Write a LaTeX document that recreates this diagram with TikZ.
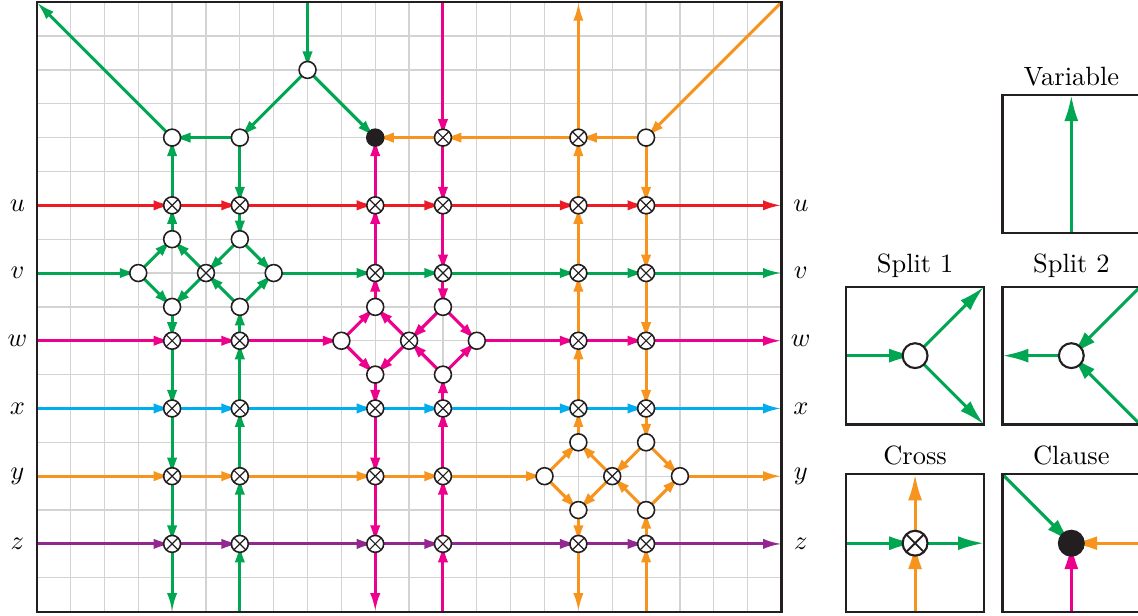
\documentclass[tikz,border=0pt]{standalone}
\usepackage{xcolor}
\usepackage{tikz}
\usetikzlibrary{arrows.meta}
\definecolor{wred}{HTML}{ED1C24}
\definecolor{wgreen}{HTML}{00A651}
\definecolor{wmagenta}{HTML}{EC008C}
\definecolor{wcyan}{HTML}{00AEEF}
\definecolor{worange}{HTML}{F7941D}
\definecolor{wpurple}{HTML}{92278F}
\definecolor{wdark}{HTML}{231F20}
\definecolor{wgrid}{HTML}{D3D3D3}
\pgfdeclarelayer{back}
\pgfdeclarelayer{wires}
\pgfsetlayers{back,wires,main}
\tikzset{
  gridline/.style={wgrid, line width=0.5pt},
  frame/.style={draw=wdark, line width=0.8pt},
  snode/.style={circle, draw=wdark, line width=0.6pt, fill=white,
               minimum size=6.4pt, inner sep=0pt},
  xnode/.style={snode, path picture={\draw[wdark, line width=0.45pt]
      (path picture bounding box.north west) -- (path picture bounding box.south east)
      (path picture bounding box.north east) -- (path picture bounding box.south west);}},
  knode/.style={snode, fill=wdark},
  flow/.style={-{Latex[length=7pt, width=3.9pt]}, line width=1.15pt},
  lbox/.style={draw=wdark, line width=0.8pt, minimum size=1.83cm,
               inner sep=0pt, outer sep=0pt},
  lsnode/.style={snode, minimum size=9.4pt, line width=0.8pt},
  lxnode/.style={lsnode, path picture={\draw[wdark, line width=0.7pt]
      (path picture bounding box.north west) -- (path picture bounding box.south east)
      (path picture bounding box.north east) -- (path picture bounding box.south west);}},
  lknode/.style={lsnode, fill=wdark},
  lflow/.style={-{Latex[length=9.8pt, width=5.3pt]}, line width=1.15pt},
}

\begin{document}
\begin{tikzpicture}[x=0.45cm, y=0.45cm]
  \useasboundingbox (-1.084,-0.103) rectangle (32.53,18.065);
  \begin{pgfonlayer}{back}
    \draw[gridline, step=1] (0,0) grid (22,18);
  \end{pgfonlayer}
  \draw[frame] (0,0) rectangle (22,18);

  \coordinate (nw) at (0,18);
  \coordinate (ne) at (22,18);
  \coordinate (n8) at (8,18);
  \coordinate (n12) at (12,18);
  \coordinate (n16) at (16,18);
  \coordinate (b4) at (4,0);
  \coordinate (b6) at (6,0);
  \coordinate (b10) at (10,0);
  \coordinate (b12) at (12,0);
  \coordinate (b16) at (16,0);
  \coordinate (b18) at (18,0);
  \coordinate (uL) at (0,12);  \coordinate (uR) at (22,12);
  \coordinate (vL) at (0,10);  \coordinate (vR) at (22,10);
  \coordinate (wL) at (0,8);   \coordinate (wR) at (22,8);
  \coordinate (xL) at (0,6);   \coordinate (xR) at (22,6);
  \coordinate (yL) at (0,4);   \coordinate (yR) at (22,4);
  \coordinate (zL) at (0,2);   \coordinate (zR) at (22,2);

  \node (lu) at (-0.57,12) {$u$};  \node (ru) at (22.57,12) {$u$};
  \node (lv) at (-0.57,10) {$v$};  \node (rv) at (22.57,10) {$v$};
  \node (lw) at (-0.57,8) {$w$};   \node (rw) at (22.57,8) {$w$};
  \node (lx) at (-0.57,6) {$x$};   \node (rx) at (22.57,6) {$x$};
  \node (ly) at (-0.57,4) {$y$};   \node (ry) at (22.57,4) {$y$};
  \node (lz) at (-0.57,2) {$z$};   \node (rz) at (22.57,2) {$z$};

  \node[snode] (t4) at (4,14) {};
  \node[snode] (t6) at (6,14) {};
  \node[snode] (t8) at (8,16) {};
  \node[knode] (cl) at (10,14) {};
  \node[xnode] (t12) at (12,14) {};
  \node[xnode] (t16) at (16,14) {};
  \node[snode] (t18) at (18,14) {};

  \node[xnode] (u4) at (4,12) {};
  \node[xnode] (u6) at (6,12) {};
  \node[xnode] (u10) at (10,12) {};
  \node[xnode] (u12) at (12,12) {};
  \node[xnode] (u16) at (16,12) {};
  \node[xnode] (u18) at (18,12) {};

  \node[snode] (v3) at (3,10) {};
  \node[snode] (v4a) at (4,11) {};
  \node[snode] (v4b) at (4,9) {};
  \node[xnode] (v5) at (5,10) {};
  \node[snode] (v6a) at (6,11) {};
  \node[snode] (v6b) at (6,9) {};
  \node[snode] (v7) at (7,10) {};
  \node[xnode] (v10) at (10,10) {};
  \node[xnode] (v12) at (12,10) {};
  \node[xnode] (v16) at (16,10) {};
  \node[xnode] (v18) at (18,10) {};

  \node[xnode] (w4) at (4,8) {};
  \node[xnode] (w6) at (6,8) {};
  \node[snode] (w9) at (9,8) {};
  \node[snode] (w10a) at (10,9) {};
  \node[snode] (w10b) at (10,7) {};
  \node[xnode] (w11) at (11,8) {};
  \node[snode] (w12a) at (12,9) {};
  \node[snode] (w12b) at (12,7) {};
  \node[snode] (w13) at (13,8) {};
  \node[xnode] (w16) at (16,8) {};
  \node[xnode] (w18) at (18,8) {};

  \node[xnode] (x4) at (4,6) {};
  \node[xnode] (x6) at (6,6) {};
  \node[xnode] (x10) at (10,6) {};
  \node[xnode] (x12) at (12,6) {};
  \node[xnode] (x16) at (16,6) {};
  \node[xnode] (x18) at (18,6) {};

  \node[xnode] (y4) at (4,4) {};
  \node[xnode] (y6) at (6,4) {};
  \node[xnode] (y10) at (10,4) {};
  \node[xnode] (y12) at (12,4) {};
  \node[snode] (y15) at (15,4) {};
  \node[snode] (y16a) at (16,5) {};
  \node[snode] (y16b) at (16,3) {};
  \node[xnode] (y17) at (17,4) {};
  \node[snode] (y18a) at (18,5) {};
  \node[snode] (y18b) at (18,3) {};
  \node[snode] (y19) at (19,4) {};

  \node[xnode] (z4) at (4,2) {};
  \node[xnode] (z6) at (6,2) {};
  \node[xnode] (z10) at (10,2) {};
  \node[xnode] (z12) at (12,2) {};
  \node[xnode] (z16) at (16,2) {};
  \node[xnode] (z18) at (18,2) {};

  \begin{pgfonlayer}{wires}
    \foreach \a/\b in {n8/t8, t8/t6, t8/cl, t6/t4, t4/nw,
        u4/t4, v4a/u4, v4b/w4, w4/x4, x4/y4, y4/z4, z4/b4,
        t6/u6, u6/v6a, b6/z6, z6/y6, y6/x6, x6/w6, w6/v6b,
        vL/v3, v3/v4a, v3/v4b, v5/v4a, v5/v4b, v6a/v5, v6b/v5, v6a/v7, v6b/v7,
        v7/v10, v10/v12, v12/v16, v16/v18, v18/vR}
      \draw[flow, wgreen] (\a.center) -- (\b.center);
    \foreach \a/\b in {n12/t12, u10/cl, v10/u10, w10a/v10, w10b/x10, x10/y10, y10/z10, z10/b10,
        t12/u12, u12/v12, v12/w12a, b12/z12, z12/y12, y12/x12, x12/w12b,
        wL/w4, w4/w6, w6/w9, w9/w10a, w9/w10b, w11/w10a, w11/w10b, w12a/w11, w12b/w11,
        w12a/w13, w12b/w13, w13/w16, w16/w18, w18/wR}
      \draw[flow, wmagenta] (\a.center) -- (\b.center);
    \foreach \a/\b in {ne/t18, t18/t16, t16/t12, t12/cl, t16/n16,
        u16/t16, v16/u16, w16/v16, x16/w16, y16a/x16, y16b/z16, z16/b16,
        t18/u18, u18/v18, v18/w18, w18/x18, x18/y18a, b18/z18, z18/y18b,
        yL/y4, y4/y6, y6/y10, y10/y12, y12/y15, y15/y16a, y15/y16b, y17/y16a, y17/y16b,
        y18a/y17, y18b/y17, y18a/y19, y18b/y19, y19/yR}
      \draw[flow, worange] (\a.center) -- (\b.center);
    \foreach \a/\b in {uL/u4, u4/u6, u6/u10, u10/u12, u12/u16, u16/u18, u18/uR}
      \draw[flow, wred] (\a.center) -- (\b.center);
    \foreach \a/\b in {xL/x4, x4/x6, x6/x10, x10/x12, x12/x16, x16/x18, x18/xR}
      \draw[flow, wcyan] (\a.center) -- (\b.center);
    \foreach \a/\b in {zL/z4, z4/z6, z6/z10, z10/z12, z12/z16, z16/z18, z18/zR}
      \draw[flow, wpurple] (\a.center) -- (\b.center);
  \end{pgfonlayer}

  \node[lbox] (var) at (30.56,13.22) {};
  \node[above] (vartitle) at (var.north) {Variable};
  \node[lbox] (sp1) at (25.945,7.56) {};
  \node[above] (sp1title) at (sp1.north) {Split 1};
  \node[lsnode] (sp1c) at (sp1.center) {};
  \node[lbox] (sp2) at (30.56,7.56) {};
  \node[above] (sp2title) at (sp2.north) {Split 2};
  \node[lsnode] (sp2c) at (sp2.center) {};
  \node[lbox] (crs) at (25.945,2.02) {};
  \node[above] (crstitle) at (crs.north) {Cross};
  \node[lxnode] (crsc) at (crs.center) {};
  \node[lbox] (cls) at (30.56,2.02) {};
  \node[above] (clstitle) at (cls.north) {Clause};
  \node[lknode] (clsc) at (cls.center) {};

  \begin{pgfonlayer}{wires}
    \draw[lflow, wgreen] (var.south) -- (var.north);
    \draw[lflow, wgreen] (sp1.west) -- (sp1c.center);
    \draw[lflow, wgreen] (sp1c.center) -- (sp1.north east);
    \draw[lflow, wgreen] (sp1c.center) -- (sp1.south east);
    \draw[lflow, wgreen] (sp2c.center) -- (sp2.west);
    \draw[lflow, wgreen] (sp2.north east) -- (sp2c.center);
    \draw[lflow, wgreen] (sp2.south east) -- (sp2c.center);
    \draw[lflow, wgreen] (crs.west) -- (crsc.center);
    \draw[lflow, wgreen] (crsc.center) -- (crs.east);
    \draw[lflow, worange] (crs.south) -- (crsc.center);
    \draw[lflow, worange] (crsc.center) -- (crs.north);
    \draw[lflow, wgreen] (cls.north west) -- (clsc.center);
    \draw[lflow, worange] (cls.east) -- (clsc.center);
    \draw[lflow, wmagenta] (cls.south) -- (clsc.center);
  \end{pgfonlayer}
\end{tikzpicture}
\end{document}
